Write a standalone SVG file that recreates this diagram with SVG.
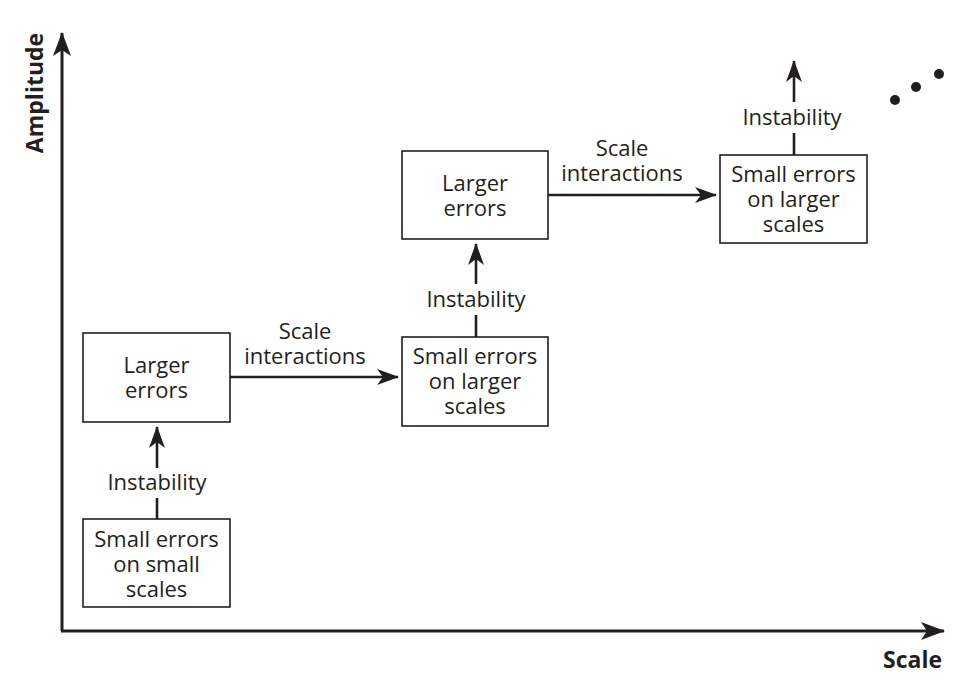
<svg xmlns="http://www.w3.org/2000/svg" width="978" height="690" viewBox="0 0 978 690">
<style>
.box{fill:#fff;stroke:#231f20;stroke-width:1.6}
.t{font-family:"Open Sans","Noto Sans",sans-serif;font-size:22px;fill:#231f20;text-anchor:middle}
.ax{font-family:"Open Sans","Noto Sans",sans-serif;font-size:23px;font-weight:bold;fill:#231f20}
.ln{stroke:#231f20;stroke-width:2.6;fill:none}
.axl{stroke:#231f20;stroke-width:3;fill:none}
</style>
<defs>
<marker id="ah" markerUnits="userSpaceOnUse" viewBox="0 0 22 16" refX="21" refY="8" markerWidth="22" markerHeight="16" orient="auto">
<path d="M0,0 L22,8 L0,16 L6,8 z" fill="#231f20"/>
</marker>
<marker id="axh" markerUnits="userSpaceOnUse" viewBox="0 0 24 18" refX="23" refY="9" markerWidth="24" markerHeight="18" orient="auto">
<path d="M0,0 L24,9 L0,18 L6,9 z" fill="#231f20"/>
</marker>
</defs>
<g id="axes">
<line class="axl" x1="62" y1="631" x2="62" y2="33" marker-end="url(#axh)"/>
<line class="axl" x1="61" y1="631" x2="944" y2="631" marker-end="url(#axh)"/>
<text class="ax" transform="translate(43,93) rotate(-90)" text-anchor="middle">Amplitude</text>
<text class="ax" x="942" y="668" text-anchor="end">Scale</text>
</g>
<g id="connectors">
<line class="ln" x1="157" y1="519" x2="157" y2="498"/>
<line class="ln" x1="157" y1="468" x2="157" y2="427" marker-end="url(#ah)"/>
<text class="t" x="157" y="490">Instability</text>
<line class="ln" x1="230" y1="377" x2="398" y2="377" marker-end="url(#ah)"/>
<text class="t" x="305" y="339">Scale</text>
<text class="t" x="305" y="364">interactions</text>
<line class="ln" x1="476" y1="337" x2="476" y2="315"/>
<line class="ln" x1="476" y1="284" x2="476" y2="244" marker-end="url(#ah)"/>
<text class="t" x="476" y="307">Instability</text>
<line class="ln" x1="548" y1="195" x2="716" y2="195" marker-end="url(#ah)"/>
<text class="t" x="622" y="156">Scale</text>
<text class="t" x="622" y="181">interactions</text>
<line class="ln" x1="794" y1="155" x2="794" y2="133"/>
<line class="ln" x1="794" y1="102" x2="794" y2="61" marker-end="url(#ah)"/>
<text class="t" x="792" y="125">Instability</text>
</g>
<g id="n1">
<rect class="box" x="83" y="519" width="147" height="88"/>
<text class="t" x="156.5" y="547">Small errors</text>
<text class="t" x="156.5" y="572">on small</text>
<text class="t" x="156.5" y="597">scales</text>
</g>
<g id="n2">
<rect class="box" x="83" y="333" width="147" height="89"/>
<text class="t" x="156.5" y="373">Larger</text>
<text class="t" x="156.5" y="398">errors</text>
</g>
<g id="n3">
<rect class="box" x="402" y="337" width="146" height="89"/>
<text class="t" x="475" y="364">Small errors</text>
<text class="t" x="475" y="389">on larger</text>
<text class="t" x="475" y="414">scales</text>
</g>
<g id="n4">
<rect class="box" x="402" y="151" width="146" height="88"/>
<text class="t" x="475" y="191">Larger</text>
<text class="t" x="475" y="216">errors</text>
</g>
<g id="n5">
<rect class="box" x="720" y="155" width="147" height="88"/>
<text class="t" x="793.5" y="182">Small errors</text>
<text class="t" x="793.5" y="207">on larger</text>
<text class="t" x="793.5" y="232">scales</text>
</g>
<g id="dots" fill="#231f20">
<circle cx="895" cy="100" r="5"/>
<circle cx="916" cy="87" r="5"/>
<circle cx="939" cy="74" r="5"/>
</g>
</svg>
